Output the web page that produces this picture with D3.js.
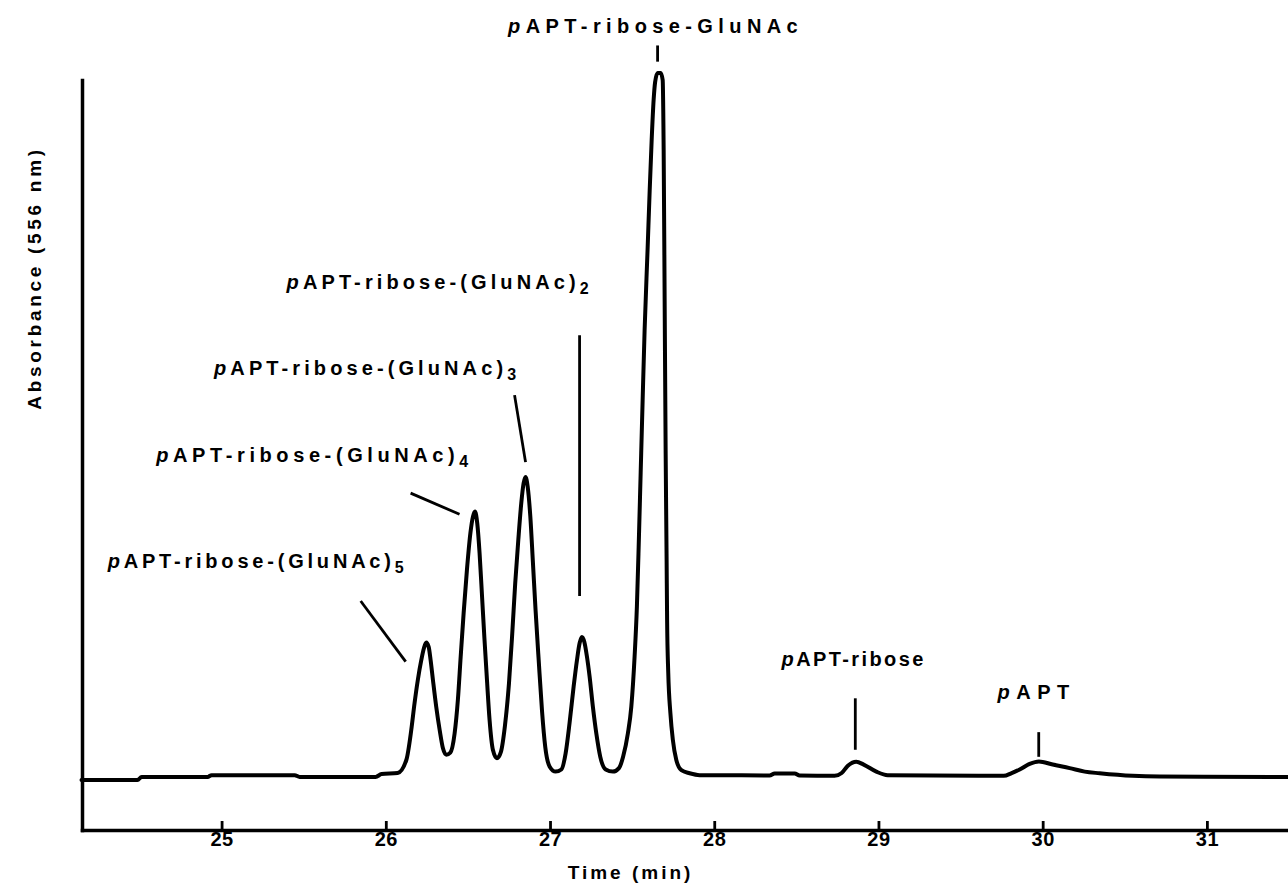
<!DOCTYPE html>
<html>
<head>
<meta charset="utf-8">
<script src="https://cdn.jsdelivr.net/npm/d3@7"></script>
<style>
  html, body { margin: 0; padding: 0; background: #fff; }
  svg { display: block; }
  text { font-family: "Liberation Sans", Arial, Helvetica, sans-serif; font-weight: bold; fill: #000; }
</style>
</head>
<body>
<svg id="chart" width="1288" height="889"></svg>
<script>
// ---- data ----
const timeMin = [
  24.147, 24.488, 24.513, 24.915, 24.939, 25.445, 25.475, 25.938, 25.974, 26.072,
  26.125, 26.155, 26.175, 26.195, 26.216, 26.232, 26.246, 26.261, 26.273, 26.287,
  26.307, 26.328, 26.348, 26.368, 26.393, 26.419, 26.439, 26.456, 26.474, 26.494,
  26.515, 26.531, 26.543, 26.557, 26.571, 26.585, 26.600, 26.616, 26.632, 26.652,
  26.677, 26.701, 26.725, 26.750, 26.770, 26.788, 26.807, 26.825, 26.839, 26.851,
  26.864, 26.880, 26.896, 26.912, 26.931, 26.951, 26.971, 26.998, 27.034, 27.069,
  27.095, 27.119, 27.144, 27.164, 27.180, 27.194, 27.209, 27.225, 27.241, 27.261,
  27.282, 27.306, 27.339, 27.383, 27.420, 27.445, 27.474, 27.495, 27.515, 27.529,
  27.541, 27.552, 27.564, 27.576, 27.594, 27.607, 27.619, 27.631, 27.640, 27.655,
  27.674, 27.686, 27.692, 27.698, 27.704, 27.710, 27.713, 27.720, 27.733, 27.748,
  27.769, 27.800, 27.850, 27.911, 28.033, 28.337, 28.368, 28.490, 28.520, 28.733,
  28.776, 28.812, 28.865, 28.910, 28.987, 29.056, 29.763, 29.811, 29.860, 29.921,
  29.977, 30.061, 30.164, 30.256, 30.347, 30.548, 30.713, 31.498
];
const absorbance = [
  -0.3, -0.3, 0.15, 0.15, 0.4, 0.4, 0.15, 0.15, 0.55, 0.7,
  2.55, 6.8, 10.6, 13.9, 16.7, 18.4, 19.2, 18.6, 16.7, 13.9,
  10.1, 6.8, 4.2, 3.3, 3.6, 6.3, 11.1, 17.2, 23.4, 29.5,
  34.7, 37.1, 37.8, 36.1, 31.9, 26.2, 20.0, 13.9, 8.2, 4.0,
  2.8, 3.7, 7.3, 13.4, 20.5, 27.6, 33.8, 39.0, 41.8, 42.7,
  41.3, 37.1, 30.5, 23.8, 16.7, 9.6, 4.4, 1.6, 0.9, 1.2,
  3.5, 7.8, 13.0, 16.7, 19.1, 20.0, 19.3, 17.2, 14.4, 10.1,
  6.3, 3.0, 1.2, 0.9, 1.4, 3.0, 6.3, 10.1, 17.2, 24.3,
  33.8, 43.3, 53.6, 63.5, 74.9, 83.4, 90.5, 96.2, 98.7, 100,
  100, 99.0, 89.1, 67.8, 46.5, 30.9, 22.4, 14.9, 9.2, 5.4,
  2.55, 1.1, 0.67, 0.4, 0.4, 0.35, 0.65, 0.65, 0.35, 0.3,
  0.7, 1.7, 2.3, 1.9, 0.9, 0.4, 0.3, 0.7, 1.2, 2.0,
  2.35, 1.9, 1.4, 0.9, 0.67, 0.3, 0.2, 0.15
];
const xTickValues = [25, 26, 27, 28, 29, 30, 31];
const xTickLabels = ["25", "26", "27", "28", "29", "30", "31"];
const xAxisTitle = "Time (min)";
const yAxisTitle = "Absorbance (556 nm)";

// peak labels: italic prefix, main text, subscript
const labelPrefix = ["p", "p", "p", "p", "p", "p", "p"];
const labelMain = ["APT-ribose-GluNAc", "APT-ribose-(GluNAc)", "APT-ribose-(GluNAc)",
                   "APT-ribose-(GluNAc)", "APT-ribose-(GluNAc)", "APT-ribose", "APT"];
const labelSub = ["", "2", "3", "4", "5", "", ""];
const labelTime = [27.643, 26.328, 25.886, 25.566, 25.219, 28.849, 29.963];
const labelAbs = [105.7, 69.4, 57.2, 44.8, 29.8, 15.9, 11.2];
// pointer lines [t1, a1, t2, a2]
const pointerLines = [
  [27.655, 103.9, 27.655, 101.6],
  [27.180, 62.8, 27.180, 25.8],
  [26.784, 54.3, 26.851, 44.8],
  [26.151, 40.4, 26.449, 37.4],
  [25.847, 25.1, 26.121, 16.5],
  [28.859, 11.3, 28.859, 4.0],
  [29.976, 6.5, 29.976, 3.0]
];

// ---- styles ----
const labelSpacing = [5.4, 4.1, 4.1, 4.6, 3.8, 2.4, 6.5];
const labelFont = 20;

const svg = d3.select("#chart");
const x = d3.scaleLinear().domain([24.15, 31.5]).range([82, 1289]);
const y = d3.scaleLinear().domain([-7.38, 99.0]).range([830, 80]);

// axes
const xAxis = d3.axisBottom(x)
  .tickValues(xTickValues)
  .tickFormat((d, i) => xTickLabels[i])
  .tickSizeInner(-9)
  .tickSizeOuter(0)
  .tickPadding(2);
const gx = svg.append("g").attr("transform", `translate(0,${y.range()[0]})`).call(xAxis);
gx.select(".domain").attr("stroke", "#000").attr("stroke-width", 3.5).attr("stroke-linecap", "square");
gx.selectAll(".tick line").attr("stroke", "#000").attr("stroke-width", 2.8);
gx.selectAll(".tick text")
  .attr("font-size", 20)
  .attr("font-weight", "bold")
  .attr("font-family", "'Liberation Sans', Arial, sans-serif")
  .attr("letter-spacing", 0.5)
  .attr("fill", "#000");

const yAxis = d3.axisLeft(y).tickValues([]).tickSizeOuter(0);
const gy = svg.append("g").attr("transform", `translate(${x.range()[0]},0)`).call(yAxis);
gy.select(".domain").attr("stroke", "#000").attr("stroke-width", 3.5).attr("stroke-linecap", "square");

// axis titles
svg.append("text")
  .attr("x", x(27.49))
  .attr("y", 879)
  .attr("text-anchor", "middle")
  .attr("font-size", 19)
  .attr("letter-spacing", 3.0)
  .text(xAxisTitle);

svg.append("text")
  .attr("transform", `translate(41,${278}) rotate(-90)`)
  .attr("text-anchor", "middle")
  .attr("font-size", 19)
  .attr("letter-spacing", 3.7)
  .text(yAxisTitle);

// trace
const pts = timeMin.map((t, i) => [t, absorbance[i]]);
const line = d3.line().x(d => x(d[0])).y(d => y(d[1])).curve(d3.curveMonotoneX);
svg.append("path")
  .datum(pts)
  .attr("d", line)
  .attr("fill", "none")
  .attr("stroke", "#000")
  .attr("stroke-width", 4)
  .attr("stroke-linejoin", "round")
  .attr("stroke-linecap", "round");

// pointer lines
svg.selectAll("line.ptr")
  .data(pointerLines)
  .join("line")
  .attr("class", "ptr")
  .attr("x1", d => x(d[0])).attr("y1", d => y(d[1]))
  .attr("x2", d => x(d[2])).attr("y2", d => y(d[3]))
  .attr("stroke", "#000")
  .attr("stroke-width", 2.8);

// labels
labelMain.forEach((m, i) => {
  const t = svg.append("text")
    .attr("x", x(labelTime[i]))
    .attr("y", y(labelAbs[i]))
    .attr("text-anchor", "middle")
    .attr("font-size", labelFont)
    .attr("letter-spacing", labelSpacing[i]);
  t.append("tspan").attr("font-style", "italic").text(labelPrefix[i]);
  t.append("tspan").text(m);
  if (labelSub[i]) {
    t.append("tspan").attr("font-size", 16).attr("dy", 5).text(labelSub[i]);
  }
});
</script>
</body>
</html>
